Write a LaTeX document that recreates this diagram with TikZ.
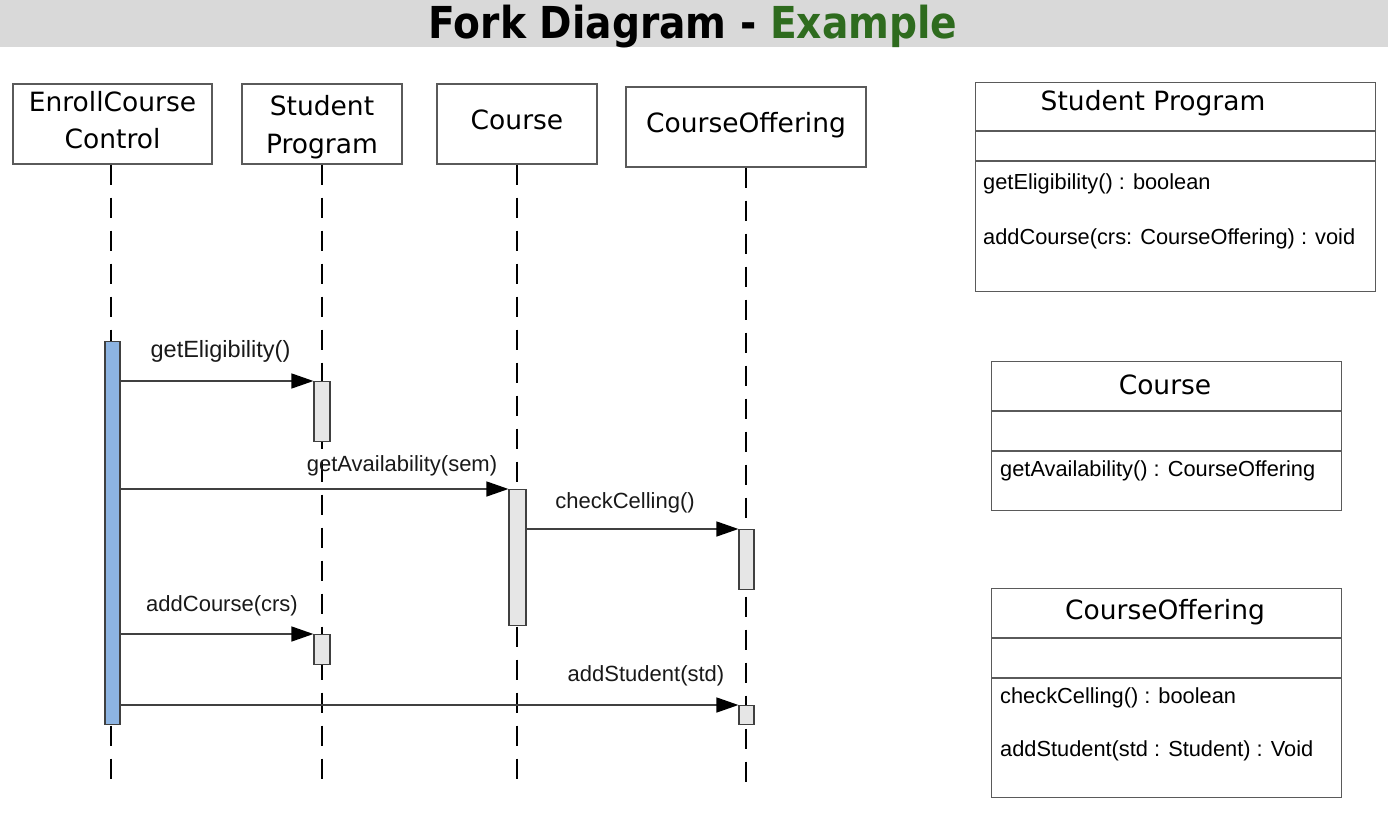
\documentclass[tikz,border=0pt]{standalone}
\usepackage{fontspec}
\setmainfont{Liberation Sans}
\newfontfamily\dv{DejaVu Sans}
\newfontfamily\dvt[FakeStretch=0.89]{DejaVu Sans}
\usetikzlibrary{arrows.meta}
\definecolor{bandgray}{RGB}{217,217,217}
\definecolor{titlegreen}{RGB}{46,107,30}
\definecolor{linegray}{RGB}{64,64,64}
\definecolor{boxgray}{RGB}{90,90,90}
\definecolor{actblue}{RGB}{141,180,226}
\definecolor{actgray}{RGB}{230,230,230}
\tikzset{
  lbox/.style={draw=boxgray, line width=1.2pt, fill=white, inner sep=0pt},
  ltext/.style={inner sep=0pt, align=center, font=\dv\fontsize{26.5}{37.5}\selectfont},
  lifeline/.style={draw=black, line width=2pt, dash pattern=on 20pt off 13pt},
  actbar/.style={draw=linegray, line width=1.2pt, fill=actgray, inner sep=0pt, minimum width=16pt},
  msg/.style={draw=linegray, line width=1.5pt, -{Triangle[length=22pt,width=15pt,fill=black,color=black]}},
  mlabel/.style={font=\fontsize{22}{24}\selectfont, text=black!90, inner sep=0pt},
  cbox/.style={draw=boxgray, line width=1.2pt, inner sep=0pt},
  chead/.style={font=\dv\fontsize{26.5}{30}\selectfont, inner sep=0pt},
  cmeth/.style={font=\fontsize{21.8}{24}\selectfont, anchor=west, inner sep=0pt}
}
\begin{document}
\begin{tikzpicture}[x=1pt,y=-1pt]
\useasboundingbox (0,0) rectangle (1388,818);
% title band
\fill[bandgray] (0,0) rectangle (1388,47);
\node[font=\dvt\bfseries\fontsize{44}{44}\selectfont, inner sep=0pt, anchor=base] (title) at (693,39)
  {Fork Diagram - \textcolor{titlegreen}{Example}};

% lifeline heads
\node[lbox, minimum width=199pt, minimum height=80pt] (ec) at (112.5,124) {};
\node[lbox, minimum width=160pt, minimum height=80pt] (sp) at (322,124) {};
\node[lbox, minimum width=160pt, minimum height=80pt] (co) at (517,124) {};
\node[lbox, minimum width=240pt, minimum height=80pt] (cf) at (746,127) {};
\node[ltext] (ect) at (112.5,120) {EnrollCourse\\Control};
\node[ltext] (spt) at (322,127) {Student\\Program};
\node[ltext] (cot) at (517,120) {Course};
\node[ltext] (cft) at (746,125) {CourseOffering};

% lifeline ends
\coordinate (ecend) at (111,782);
\coordinate (spend) at (322,782);
\coordinate (coend) at (517,782);
\coordinate (cfend) at (746,785);

\draw[lifeline] (ec.south -| ecend) -- (ecend);
\draw[lifeline] (sp.south) -- (spend);
\draw[lifeline, line width=2.6pt] (co.south) -- (coend);
\draw[lifeline] (cf.south) -- (cfend);

% activation bars
\node[actbar, fill=actblue, minimum width=15pt, minimum height=383pt, anchor=north] (eca) at (112.5,341) {};
\node[actbar, minimum height=60pt, anchor=north] (spa1) at (322,381) {};
\node[actbar, minimum width=17pt, minimum height=136pt, anchor=north] (coa) at (517.5,489) {};
\node[actbar, minimum width=15pt, minimum height=60pt, anchor=north] (cfa1) at (746.5,529) {};
\node[actbar, minimum height=30pt, anchor=north] (spa2) at (322,634) {};
\node[actbar, minimum width=15pt, minimum height=19pt, anchor=north] (cfa2) at (746.5,705) {};

% messages
\draw[msg] (eca.east |- spa1.north west) -- (spa1.north west);
\draw[msg] (eca.east |- coa.north west) -- (coa.north west);
\draw[msg] (coa.east |- cfa1.north west) -- (cfa1.north west);
\draw[msg] (eca.east |- spa2.north west) -- (spa2.north west);
\draw[msg] (eca.east |- cfa2.north west) -- (cfa2.north west);

\node[mlabel, font=\fontsize{23.5}{26}\selectfont] (l1) at (220.5,351) {getEligibility()};
\node[mlabel] (l2) at (402,466) {getAvailability(sem)};
\node[mlabel] (l3) at (625,503) {checkCelling()};
\node[mlabel] (l4) at (222,606) {addCourse(crs)};
\node[mlabel] (l5) at (646,676) {addStudent(std)};

% class boxes
\node[cbox, minimum width=400pt, minimum height=209pt, anchor=north west] (c1) at (975,82) {};
\draw[boxgray, line width=1.2pt] (c1.west |- 0,131) -- (c1.east |- 0,131);
\draw[boxgray, line width=1.2pt] (c1.west |- 0,161) -- (c1.east |- 0,161);
\node[chead] (c1h) at (1153,103) {Student Program};
\node[cmeth] (c1m1) at (983,184) {getEligibility() : boolean};
\node[cmeth] (c1m2) at (983,239) {addCourse(crs: CourseOffering) : void};

\node[cbox, minimum width=350pt, minimum height=149pt, anchor=north west] (c2) at (991,361) {};
\draw[boxgray, line width=1.2pt] (c2.west |- 0,411) -- (c2.east |- 0,411);
\draw[boxgray, line width=1.2pt] (c2.west |- 0,451) -- (c2.east |- 0,451);
\node[chead] (c2h) at (1165,385) {Course};
\node[cmeth] (c2m1) at (1000,471) {getAvailability() : CourseOffering};

\node[cbox, minimum width=350pt, minimum height=209pt, anchor=north west] (c3) at (991,588) {};
\draw[boxgray, line width=1.2pt] (c3.west |- 0,638) -- (c3.east |- 0,638);
\draw[boxgray, line width=1.2pt] (c3.west |- 0,678) -- (c3.east |- 0,678);
\node[chead] (c3h) at (1165,612) {CourseOffering};
\node[cmeth] (c3m1) at (1000,698) {checkCelling() : boolean};
\node[cmeth] (c3m2) at (1000,751) {addStudent(std : Student) : Void};
\end{tikzpicture}
\end{document}
